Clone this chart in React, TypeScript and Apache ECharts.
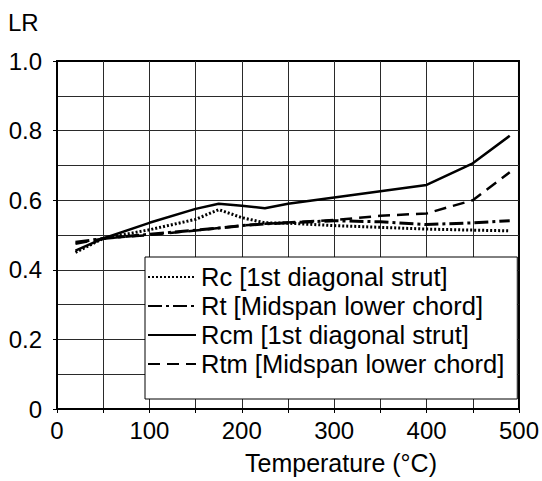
import React, { useEffect, useRef } from "react";
import * as echarts from "echarts";

const temperatures = [20, 50, 100, 150, 175, 200, 225, 250, 300, 350, 400, 450, 490];
const rc = [0.45, 0.49, 0.515, 0.545, 0.573, 0.55, 0.535, 0.534, 0.527, 0.522, 0.517, 0.514, 0.512];
const rt = [0.479, 0.49, 0.502, 0.514, 0.52, 0.527, 0.532, 0.535, 0.541, 0.538, 0.53, 0.535, 0.541];
const rcm = [0.455, 0.49, 0.535, 0.575, 0.59, 0.584, 0.577, 0.59, 0.608, 0.626, 0.644, 0.706, 0.785];
const rtm = [0.475, 0.49, 0.5, 0.513, 0.52, 0.527, 0.532, 0.536, 0.543, 0.555, 0.562, 0.6, 0.68];
const seriesNames = [
  "Rc [1st diagonal strut]",
  "Rt [Midspan lower chord]",
  "Rcm [1st diagonal strut]",
  "Rtm [Midspan lower chord]",
];

const FONT = "'Liberation Sans', Arial, sans-serif";

const pairs = (ys: number[]) => temperatures.map((t, i) => [t, ys[i]]);

export default function App() {
  const ref = useRef<HTMLDivElement>(null);
  useEffect(() => {
    if (!ref.current) return;
    const chart = echarts.init(ref.current, undefined, { renderer: "svg" });
    const mk = (name: string, data: number[], type: any, width: number, z: number) => ({
      name,
      type: "line",
      data: pairs(data),
      symbol: "none",
      showSymbol: false,
      yAxisIndex: 0,
      z,
      color: "#000",
      itemStyle: { color: "#000" },
      lineStyle: { color: "#000", width, type, cap: "butt" },
    });
    chart.setOption({
      animation: false,
      backgroundColor: "#fff",
      textStyle: { fontFamily: FONT },
      title: {
        text: "LR",
        left: 3,
        top: 5,
        textStyle: { fontSize: 24, fontWeight: "normal", color: "#000", fontFamily: FONT },
      },
      grid: {
        left: 57,
        right: 12,
        top: 61,
        bottom: 72,
        show: true,
        borderColor: "#000",
        borderWidth: 2,
        backgroundColor: "#fff",
      },
      xAxis: {
        type: "value",
        min: 0,
        max: 500,
        interval: 50,
        axisLine: { show: true, lineStyle: { color: "#000", width: 2 } },
        axisTick: { show: true, length: 4, lineStyle: { color: "#000" } },
        axisLabel: {
          fontSize: 24,
          color: "#000",
          margin: 9,
          fontFamily: FONT,
          formatter: (v: number) => (v % 100 === 0 ? String(v) : ""),
        },
        splitLine: { show: true, showMinLine: false, showMaxLine: false, lineStyle: { color: "#2a2a2a", width: 1 } },
      },
      yAxis: [
        {
          type: "value",
          min: 0,
          max: 1,
          interval: 0.1,
          position: "left",
          axisLine: { show: true, lineStyle: { color: "#000", width: 2 } },
          axisTick: { show: false },
          axisLabel: { show: false },
          splitLine: { show: true, showMinLine: false, showMaxLine: false, lineStyle: { color: "#2a2a2a", width: 1 } },
        },
        {
          type: "value",
          min: 0,
          max: 1,
          interval: 0.2,
          position: "left",
          axisLine: { show: false },
          axisTick: { show: true, length: 4, lineStyle: { color: "#000" } },
          axisLabel: {
            fontSize: 24,
            color: "#000",
            margin: 15,
            fontFamily: FONT,
            formatter: (v: number) => (v === 0 ? "0" : v.toFixed(1)),
          },
          splitLine: { show: false },
        },
      ],
      legend: {
        show: true,
        orient: "vertical",
        left: 145,
        top: 257,
        padding: [7, 13, 22, 2],
        itemGap: 3,
        itemWidth: 48,
        itemHeight: 14,
        backgroundColor: "#fff",
        borderColor: "#000",
        borderWidth: 1,
        itemStyle: { opacity: 0 },
        textStyle: { fontSize: 25.5, color: "#000", fontFamily: FONT, lineHeight: 25 },
        data: seriesNames,
      },
      graphic: [
        {
          type: "text",
          x: 341,
          y: 463,
          style: {
            text: "Temperature (°C)",
            fontSize: 25,
            fill: "#000",
            fontFamily: FONT,
            textAlign: "center",
            textVerticalAlign: "middle",
          },
        },
      ],
      series: [
        mk(seriesNames[0], rc, [2, 2], 3, 3),
        mk(seriesNames[1], rt, [14, 4, 3, 4], 3, 4),
        mk(seriesNames[2], rcm, "solid", 2.5, 5),
        mk(seriesNames[3], rtm, [12, 7], 2.5, 2),
      ],
    });
    return () => chart.dispose();
  }, []);
  return <div ref={ref} style={{ width: 542, height: 481, position: "absolute", left: 0, top: 0 }} />;
}
